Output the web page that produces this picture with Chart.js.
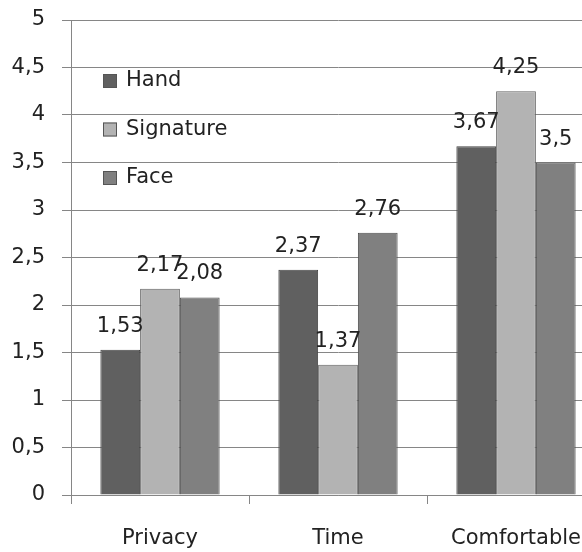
<!DOCTYPE html>
<html>
<head>
<meta charset="utf-8">
<script src="https://cdn.jsdelivr.net/npm/chart.js@4.4.0/dist/chart.umd.min.js"></script>
<style>
  html, body { margin: 0; padding: 0; background: #fff; overflow: hidden; }
  #wrap { width: 582px; height: 552px; overflow: hidden; }
</style>
</head>
<body>
<div id="wrap"><canvas id="chart" width="610" height="552"></canvas></div>
<script>
const categories = ['Privacy', 'Time', 'Comfortable'];
const handValues = [1.53, 2.37, 3.67];
const signatureValues = [2.17, 1.37, 4.25];
const faceValues = [2.08, 2.76, 3.5];
const yTicks = [0, 0.5, 1, 1.5, 2, 2.5, 3, 3.5, 4, 4.5, 5];

const FONT = "'DejaVu Sans', sans-serif";
const fmt = v => String(v).replace('.', ',');

// value labels above each bar
const barLabels = {
  id: 'barLabels',
  afterDatasetsDraw(chart) {
    const ctx = chart.ctx;
    ctx.save();
    ctx.font = '21px ' + FONT;
    ctx.fillStyle = '#222';
    ctx.textAlign = 'center';
    ctx.textBaseline = 'alphabetic';
    chart.data.datasets.forEach((ds, i) => {
      chart.getDatasetMeta(i).data.forEach((bar, j) => {
        ctx.fillText(fmt(ds.data[j]), bar.x, bar.y - 18);
      });
    });
    ctx.restore();
  }
};

// legend drawn inside the plot area, top-left
const insideLegend = {
  id: 'insideLegend',
  afterDraw(chart) {
    const ctx = chart.ctx;
    const left = chart.chartArea.left + 32;
    const top = chart.chartArea.top + 54;
    ctx.save();
    ctx.font = '21px ' + FONT;
    ctx.textBaseline = 'middle';
    ctx.textAlign = 'left';
    chart.data.datasets.forEach((ds, i) => {
      const y = top + i * 48.5;
      ctx.fillStyle = ds.backgroundColor;
      ctx.fillRect(left, y, 14, 14);
      ctx.strokeStyle = '#555';
      ctx.lineWidth = 1;
      ctx.strokeRect(left + 0.5, y + 0.5, 13, 13);
      ctx.fillStyle = '#222';
      ctx.fillText(ds.label, left + 23, y + 7);
    });
    ctx.restore();
  }
};

new Chart(document.getElementById('chart'), {
  type: 'bar',
  data: {
    labels: categories,
    datasets: [
      { label: 'Hand', data: handValues, backgroundColor: '#606060', borderColor: '#444444', borderWidth: 1 },
      { label: 'Signature', data: signatureValues, backgroundColor: '#b3b3b3', borderColor: '#626262', borderWidth: 1 },
      { label: 'Face', data: faceValues, backgroundColor: '#808080', borderColor: '#4f4f4f', borderWidth: 1 }
    ]
  },
  options: {
    responsive: false,
    animation: false,
    devicePixelRatio: 1,
    layout: { padding: { top: 20, right: 5, left: 0, bottom: 0 } },
    datasets: { bar: { barPercentage: 1, categoryPercentage: 0.67 } },
    plugins: { legend: { display: false }, tooltip: { enabled: false } },
    scales: {
      x: {
        grid: { display: true, drawOnChartArea: false, drawTicks: true, tickLength: 9, color: '#868686', offset: true },
        border: { display: true, color: '#868686' },
        ticks: { color: '#222', font: { family: FONT, size: 21 }, padding: 22, maxRotation: 0 },
        afterFit(scale) { scale.height = 57; scale.paddingLeft = 0; scale.paddingRight = 0; }
      },
      y: {
        min: 0,
        max: 5,
        afterBuildTicks(scale) { scale.ticks = yTicks.map(v => ({ value: v })); },
        grid: { color: '#868686', tickLength: 9 },
        border: { display: true, color: '#868686' },
        ticks: { color: '#222', font: { family: FONT, size: 21 }, padding: 17, callback: v => fmt(v) },
        afterFit(scale) { scale.width = 71; scale.paddingTop = 0; scale.paddingBottom = 0; }
      }
    }
  },
  plugins: [barLabels, insideLegend]
});
</script>
</body>
</html>
